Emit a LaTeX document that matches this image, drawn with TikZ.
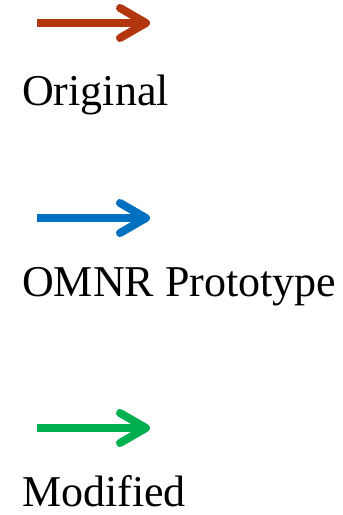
\documentclass[tikz,border=0pt]{standalone}
\usepackage{fontspec}
\setmainfont{Liberation Serif}
\usetikzlibrary{arrows.meta}
\definecolor{origred}{RGB}{178,54,14}
\definecolor{protoblue}{RGB}{0,112,192}
\definecolor{modgreen}{RGB}{0,176,80}
\begin{document}
\begin{tikzpicture}
    [x=1pt,y=-1pt,inner sep=0pt,
     legarrow/.style={line width=8pt,-{Straight Barb[length=26pt,width=30pt,line cap=round,line join=round]}},
     leglabel/.style={anchor=base west,text depth=0pt,font=\fontsize{44}{50}\selectfont}]
    \useasboundingbox (0, 0) rectangle (343, 515);
    \coordinate (o1) at (37, 23);
    \coordinate (o2) at (150, 23);
    \coordinate (p1) at (37, 218);
    \coordinate (p2) at (150, 218);
    \coordinate (m1) at (37, 428);
    \coordinate (m2) at (150, 428);
    \node (original) at (22, 105) [leglabel] {Original};
    \node (prototype) at (22, 296) [leglabel] {OMNR Prototype};
    \node (modified) at (22, 506) [leglabel] {Modified};
    \draw [legarrow,origred] (o1) to (o2);
    \draw [legarrow,protoblue] (p1) to (p2);
    \draw [legarrow,modgreen] (m1) to (m2);
  \end{tikzpicture}
\end{document}
